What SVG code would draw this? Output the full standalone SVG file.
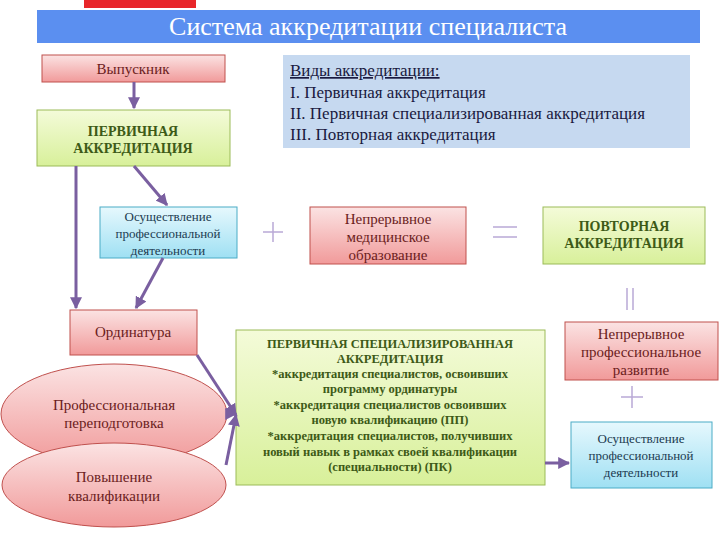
<svg xmlns="http://www.w3.org/2000/svg" width="720" height="540" viewBox="0 0 720 540" font-family="'Liberation Serif', 'DejaVu Serif', serif">
<defs>
<linearGradient id="pk" x1="0" y1="0" x2="0" y2="1"><stop offset="0" stop-color="#fbe3e3"/><stop offset="1" stop-color="#f19a9a"/></linearGradient>
<linearGradient id="gr" x1="0" y1="0" x2="0" y2="1"><stop offset="0" stop-color="#f4fbd9"/><stop offset="1" stop-color="#d8f09a"/></linearGradient>
<linearGradient id="cy" x1="0" y1="0" x2="0" y2="1"><stop offset="0" stop-color="#e6f8fd"/><stop offset="1" stop-color="#9fe0f3"/></linearGradient>
<marker id="ar" viewBox="0 0 10 10" refX="9" refY="5" markerWidth="4" markerHeight="4" orient="auto"><path d="M0,0L10,5L0,10z" fill="#7a5fa0"/></marker>
</defs>
<style>
text{font-family:'Liberation Serif','DejaVu Serif',serif;text-anchor:middle}
.pk{fill:url(#pk);stroke:#c0504d;stroke-width:1}
.gr{fill:url(#gr);stroke:#9bbb59;stroke-width:1}
.cy{fill:url(#cy);stroke:#4bacc6;stroke-width:1}
.tr{fill:#6b1c1c;font-size:15px}
.tg{fill:#3d5a17;font-size:14px;font-weight:bold}
.ts{fill:#3d5a17;font-size:12.5px;font-weight:bold}
.tb{fill:#203a50;font-size:13px}
.ti{fill:#1a1a40;font-size:17px;text-anchor:start}
.ln{stroke:#7a5fa0;stroke-width:3;fill:none}
.sym{fill:none;stroke:#b9a9d6;stroke-width:1.5}
</style>
<rect width="720" height="540" fill="#fff"/>
<rect x="84" y="0" width="112" height="8" fill="#e8262a"/>
<rect x="37" y="10" width="663" height="33" fill="#5b8ff0"/>
<text x="368" y="35" font-size="26" fill="#fff">Система аккредитации специалиста</text>
<g id="info"><rect x="283" y="55" width="407" height="93" fill="#c6d9f0"/>
<text class="ti" x="290" y="76" text-decoration="underline">Виды аккредитации:</text>
<text class="ti" x="290" y="98">I.   Первичная аккредитация</text>
<text class="ti" x="290" y="119">II.  Первичная специализированная аккредитация</text>
<text class="ti" x="290" y="140">III. Повторная аккредитация</text></g>
<g id="vypusk"><rect class="pk" x="42" y="55" width="183" height="27"/><text class="tr" x="133" y="74">Выпускник</text></g>
<g id="perv"><rect class="gr" x="37" y="110" width="193" height="56"/><text class="tg" x="133" y="136">ПЕРВИЧНАЯ</text><text class="tg" x="133" y="153">АККРЕДИТАЦИЯ</text></g>
<g id="osush1"><rect class="cy" x="100" y="207" width="137" height="51"/><text class="tb" x="168" y="221">Осуществление</text><text class="tb" x="168" y="238">профессиональной</text><text class="tb" x="168" y="255">деятельности</text></g>
<g id="nmo"><rect class="pk" x="310" y="207" width="156" height="57"/><text class="tr" x="388" y="224">Непрерывное</text><text class="tr" x="388" y="242">медицинское</text><text class="tr" x="388" y="260">образование</text></g>
<g id="povt"><rect class="gr" x="543" y="207" width="162" height="57"/><text class="tg" x="624" y="231">ПОВТОРНАЯ</text><text class="tg" x="624" y="248">АККРЕДИТАЦИЯ</text></g>
<g id="nmr"><rect class="pk" x="565" y="322" width="153" height="58"/><text class="tr" x="641" y="339">Непрерывное</text><text class="tr" x="641" y="357">профессиональное</text><text class="tr" x="641" y="375">развитие</text></g>
<g id="osush2"><rect class="cy" x="571" y="422" width="141" height="66"/><text class="tb" x="641" y="443">Осуществление</text><text class="tb" x="641" y="460">профессиональной</text><text class="tb" x="641" y="477">деятельности</text></g>
<g id="ord"><rect class="pk" x="70" y="310" width="127" height="45"/><text class="tr" x="133" y="337">Ординатура</text></g>
<g id="pp"><ellipse class="pk" cx="114" cy="414" rx="113" ry="50"/><text class="tr" x="114" y="410">Профессиональная</text><text class="tr" x="114" y="428">переподготовка</text></g>
<g id="pk2"><ellipse class="pk" cx="114" cy="485" rx="112" ry="42"/><text class="tr" x="114" y="482">Повышение</text><text class="tr" x="114" y="501">квалификации</text></g>
<g id="psa"><rect class="gr" x="236" y="330" width="309" height="155"/>
<text class="ts" x="390" y="348">ПЕРВИЧНАЯ СПЕЦИАЛИЗИРОВАННАЯ</text><text class="ts" x="390" y="363">АККРЕДИТАЦИЯ</text>
<text class="ts" x="390" y="378">*аккредитация специалистов, освоивших</text><text class="ts" x="390" y="393">программу ординатуры</text>
<text class="ts" x="390" y="409">*аккредитация специалистов освоивших</text><text class="ts" x="390" y="424">новую квалификацию (ПП)</text>
<text class="ts" x="390" y="440">*аккредитация специалистов, получивших</text><text class="ts" x="390" y="456">новый навык в рамках своей квалификации</text>
<text class="ts" x="390" y="471">(специальности) (ПК)</text></g>
<g id="symbols">
<path class="sym" d="M273,222V242M263,232H283"/>
<path class="sym" d="M493,227H517M493,237H517"/>
<path class="sym" d="M627,288V310M633,288V310"/>
<path class="sym" d="M632,386V408M621,397H643"/>
</g>
<g id="connectors">
<path class="ln" d="M134,82V108" marker-end="url(#ar)"/>
<path class="ln" d="M134,166L167,205" marker-end="url(#ar)"/>
<path class="ln" d="M76,166V308" marker-end="url(#ar)"/>
<path class="ln" d="M163,258L136,308" marker-end="url(#ar)"/>
<path class="ln" d="M197,355L236,415" marker-end="url(#ar)"/>
<path class="ln" d="M227,414H236" marker-end="url(#ar)"/>
<path class="ln" d="M226,465L236,415" marker-end="url(#ar)"/>
<path class="ln" d="M545,463H569" marker-end="url(#ar)"/>
</g>
</svg>
